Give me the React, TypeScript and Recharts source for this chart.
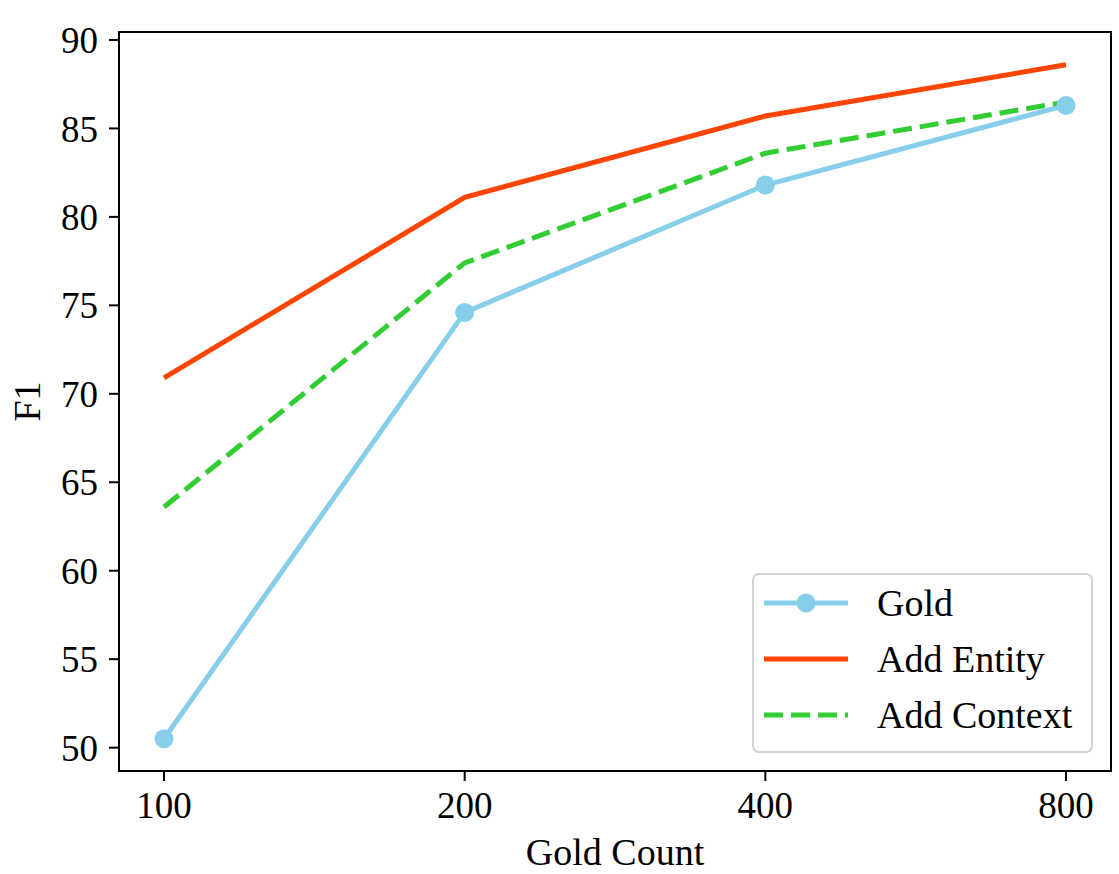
import * as React from 'react';
import * as R from 'recharts';
import { LineChart, Line, XAxis, YAxis, Legend } from 'recharts';

const counts = ['100', '200', '400', '800'];
const goldValues = [50.5, 74.6, 81.8, 86.3];
const entityValues = [70.9, 81.1, 85.7, 88.6];
const contextValues = [63.6, 77.4, 83.6, 86.5];
const yTicks = [50, 55, 60, 65, 70, 75, 80, 85, 90];
const seriesOrder = ['gold', 'entity', 'context'];

const FONT = '"Liberation Serif", "Times New Roman", serif';

const seriesStyle: Record<string, { color: string; dash?: string; dot?: boolean }> = {
  gold: { color: '#87CEEB', dot: true },
  entity: { color: '#FF4500' },
  context: { color: '#32CD32', dash: '19 8' },
};

const data = counts.map((count, i) => ({
  count,
  gold: goldValues[i],
  entity: entityValues[i],
  context: contextValues[i],
}));

// full box around the plot area, like matplotlib spines
function Frame() {
  const hook = (R as any).usePlotArea || (R as any).useOffset;
  const area = hook ? hook() : null;
  const x = area ? (area.x ?? area.left) : 119;
  const y = area ? (area.y ?? area.top) : 32;
  const w = area && area.width != null ? area.width : 992;
  const h = area && area.height != null ? area.height : 739;
  return <rect x={x} y={y} width={w} height={h} fill="none" stroke="#000" strokeWidth={2} />;
}

const renderLegend = (props: any) => {
  const payload = [...(props.payload || [])].sort(
    (a: any, b: any) => seriesOrder.indexOf(a.dataKey) - seriesOrder.indexOf(b.dataKey)
  );
  return (
    <div
      style={{
        boxSizing: 'border-box',
        width: 341,
        height: 180,
        border: '2px solid #d3d3d3',
        borderRadius: 7,
        background: 'rgba(255,255,255,0.8)',
        fontFamily: FONT,
        fontSize: 38,
        color: '#000',
      }}
    >
      {payload.map((entry: any) => {
        const s = seriesStyle[entry.dataKey];
        return (
          <div key={entry.dataKey} style={{ display: 'flex', alignItems: 'center', height: 56 }}>
            <svg width={84} height={22} style={{ marginLeft: 10, marginRight: 29, flexShrink: 0 }}>
              <line x1={0} y1={11} x2={84} y2={11} stroke={s.color} strokeWidth={5} strokeDasharray={s.dash} />
              {s.dot && <circle cx={42} cy={11} r={9.5} fill={s.color} />}
            </svg>
            <span>{entry.value}</span>
          </div>
        );
      })}
    </div>
  );
};

const tickStyle = { fontSize: 37, fill: '#000', fontFamily: FONT };
const axisStroke = { stroke: '#000', strokeWidth: 2 };

export default function App() {
  return (
    <div style={{ position: 'absolute', left: 0, top: 0, background: '#fff' }}>
      <LineChart width={1119} height={874} data={data} margin={{ top: 32, right: 8, left: 19, bottom: 23 }}>
        <XAxis
          dataKey="count"
          type="category"
          padding={{ left: 45, right: 45 }}
          height={80}
          tick={tickStyle}
          tickSize={10}
          tickMargin={11}
          tickLine={axisStroke}
          axisLine={axisStroke}
          label={{
            content: ({ viewBox }: any) => (
              <text
                x={viewBox.x + viewBox.width / 2}
                y={865}
                textAnchor="middle"
                fontSize={38}
                fontFamily={FONT}
                fill="#000"
              >
                Gold Count
              </text>
            ),
          }}
        />
        <YAxis
          type="number"
          domain={[48.68, 90.45]}
          allowDataOverflow
          ticks={yTicks}
          width={100}
          tick={tickStyle}
          tickSize={10}
          tickMargin={11}
          tickLine={axisStroke}
          axisLine={axisStroke}
          label={{
            content: ({ viewBox }: any) => {
              const cy = viewBox.y + viewBox.height / 2;
              return (
                <text
                  x={40}
                  y={cy}
                  textAnchor="middle"
                  fontSize={38}
                  fontFamily={FONT}
                  fill="#000"
                  transform={`rotate(-90, 40, ${cy})`}
                >
                  F1
                </text>
              );
            },
          }}
        />
        <Frame />
        <Legend
          layout="vertical"
          align="center"
          verticalAlign="middle"
          content={renderLegend}
          wrapperStyle={{ left: 752, top: 573, width: 341, height: 180 }}
        />
        <Line
          type="linear"
          dataKey="gold"
          name="Gold"
          stroke={seriesStyle.gold.color}
          strokeWidth={5}
          dot={{ r: 9.5, fill: seriesStyle.gold.color, stroke: seriesStyle.gold.color, strokeWidth: 0 }}
          activeDot={false}
          isAnimationActive={false}
        />
        <Line
          type="linear"
          dataKey="entity"
          name="Add Entity"
          stroke={seriesStyle.entity.color}
          strokeWidth={5}
          dot={false}
          activeDot={false}
          isAnimationActive={false}
        />
        <Line
          type="linear"
          dataKey="context"
          name="Add Context"
          stroke={seriesStyle.context.color}
          strokeWidth={5}
          strokeDasharray={seriesStyle.context.dash}
          dot={false}
          activeDot={false}
          isAnimationActive={false}
        />
      </LineChart>
    </div>
  );
}
